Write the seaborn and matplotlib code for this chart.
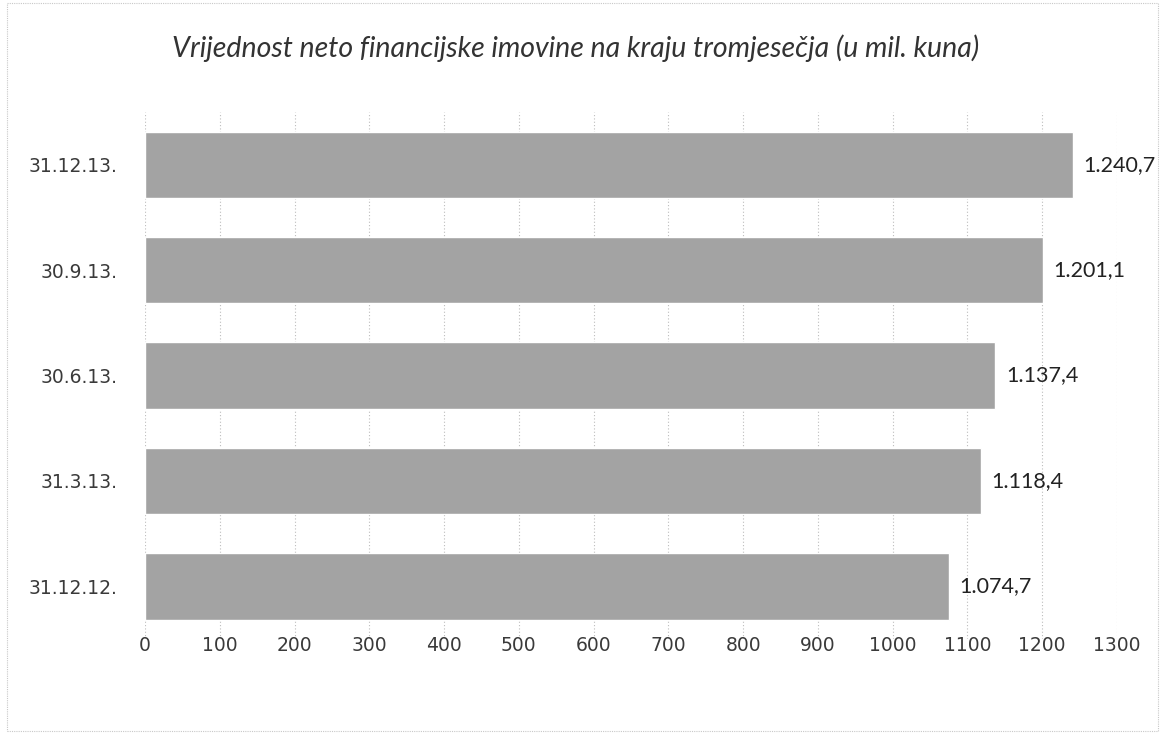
import pandas as pd
import numpy as np
import seaborn as sns
import matplotlib.pyplot as plt
from matplotlib.patches import Rectangle

dates = ['31.12.13.', '30.9.13.', '30.6.13.', '31.3.13.', '31.12.12.']
values = [1240.7, 1201.1, 1137.4, 1118.4, 1074.7]
xticks = list(range(0, 1301, 100))

df = pd.DataFrame({'datum': dates, 'vrijednost': values})

sns.set_style('white')
plt.rcParams['font.family'] = ['Lato', 'DejaVu Sans']

fig = plt.figure(figsize=(11.65, 7.35), dpi=100)
ax = fig.add_axes([0.1245, 0.1306, 0.8343, 0.717])

sns.barplot(data=df, x='vrijednost', y='datum', orient='h', color='#a3a3a3',
            width=0.63, saturation=1, ax=ax, zorder=2)

ax.set_xlim(0, 1300)
ax.set_xticks(xticks)
ax.set_xticklabels([str(t) for t in xticks])
ax.set_xlabel('')
ax.set_ylabel('')
ax.tick_params(axis='x', length=0, pad=-2, labelcolor='#3a3a3a')
ax.tick_params(axis='y', length=0, pad=20, labelcolor='#3a3a3a')
for lbl in ax.get_xticklabels() + ax.get_yticklabels():
    lbl.set_fontfamily('DejaVu Sans')
    lbl.set_fontsize(13.5)
ax.grid(axis='x', color='#bdbdbd', linestyle=(0, (1, 2)), linewidth=0.8, zorder=0)
ax.set_axisbelow(True)
for s in ax.spines.values():
    s.set_visible(False)


def fmt(v):
    s = f'{v:,.1f}'
    return s.replace(',', 'X').replace('.', ',').replace('X', '.')


for i, v in enumerate(values):
    ax.text(v + 14, i, fmt(v), va='center', ha='left', fontsize=15.5, color='#222222')

fig.text(0.494, 0.935, 'Vrijednost neto financijske imovine na kraju tromjesečja (u mil. kuna)',
         ha='center', va='center', fontsize=20.5, style='italic', color='#333333')

fig.patches.append(Rectangle((0.006, 0.006), 0.988, 0.99, transform=fig.transFigure,
                             fill=False, edgecolor='#c8c8c8', linestyle=(0, (1, 1)),
                             linewidth=0.8))

plt.savefig('out.png', dpi=100)
